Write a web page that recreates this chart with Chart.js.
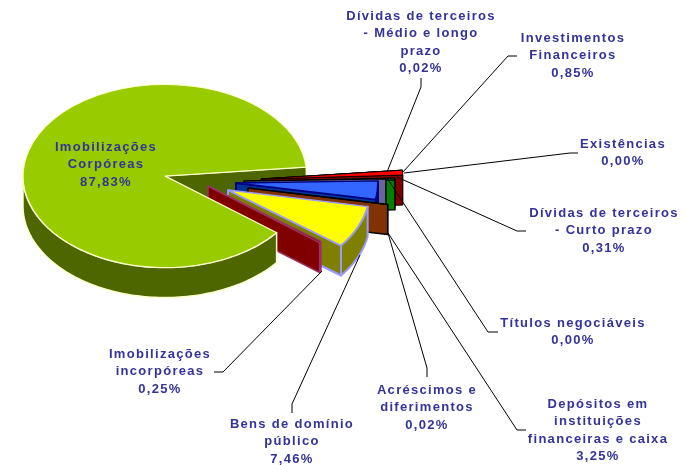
<!DOCTYPE html>
<html>
<head>
<meta charset="utf-8">
<style>html,body{margin:0;padding:0;background:#fff}#wrap{width:688px;height:465px}</style>
<script src="https://cdn.jsdelivr.net/npm/chart.js@4/dist/chart.umd.min.js"></script>
</head>
<body>
<div id="wrap"><canvas id="c" width="688" height="465"></canvas></div>
<script>
// Data (clockwise from the top-right slice)
const categories = ["Dívidas de terceiros - Médio e longo prazo","Investimentos Financeiros","Existências","Dívidas de terceiros - Curto prazo","Títulos negociáveis","Depósitos em instituições financeiras e caixa","Acréscimos e diferimentos","Bens de domínio público","Imobilizações incorpóreas","Imobilizações Corpóreas"];
const values = [0.02,0.85,0.00,0.31,0.00,3.25,0.02,7.46,0.25,87.83];
const valueLabels = ["0,02%","0,85%","0,00%","0,31%","0,00%","3,25%","0,02%","7,46%","0,25%","87,83%"];
const labelLines = [
 ["Dívidas de terceiros","- Médio e longo","prazo"],
 ["Investimentos","Financeiros"],
 ["Existências"],
 ["Dívidas de terceiros","- Curto prazo"],
 ["Títulos negociáveis"],
 ["Depósitos em","instituições","financeiras e caixa"],
 ["Acréscimos e","diferimentos"],
 ["Bens de domínio","público"],
 ["Imobilizações","incorpóreas"],
 ["Imobilizações","Corpóreas"]
];
// Styles
const topColors  = ["#000000","#FF0000","#000000","#008000","#000000","#3366FF","#FF6600","#FFFF00","#800000","#99CC00"];
const sideColors = ["#000000","#800000","#000000","#008000","#666699","#003399","#803300","#808000","#800000","#4D6600"];
const edgeColors = ["#000000","#000000","#000000","#000000","#000000","#000080","#000000","#9999FF","#993366","#FFFFCC"];
const edgeWidths = [1,1,1,1.5,1.5,2,1.5,2,1.5,1.5];
const shiftX = [96,96,88,88,79,71,83,63,43,0];
const shiftY = [3,3,6,6,5,7,12,14,10,0];
const squash = 0.645, depth = 30;
const labelX = [421,573,623,604,573,598,427,292,160,106];
const labelY = [16,38,144,213,323,404,390,424,354,147];
const lineStep = 17.6;
const leaders = [
 [[421,78],[421,87],[387,172]],
 [[517,56],[508,56],[403,172]],
 [[578,153],[570,153],[404,173]],
 [[526,231],[517,231],[397,177]],
 [[498,332],[488,332],[387,178]],
 [[526,430],[517,430],[388,233]],
 [[427,377],[427,368],[388,233]],
 [[292,413],[292,404],[360,255]],
 [[214,372],[223,372],[322,271]],
 []
];

function pt(a,t,i,d){
  return [a.x+shiftX[i]+a.outerRadius*Math.cos(t), a.y+shiftY[i]+squash*a.outerRadius*Math.sin(t)+d];
}
function face(ctx,pts,fill,stroke,w){
  ctx.beginPath();
  pts.forEach((p,n)=> n?ctx.lineTo(p[0],p[1]):ctx.moveTo(p[0],p[1]));
  ctx.closePath();
  ctx.fillStyle=fill;ctx.fill();
  ctx.lineJoin='round';ctx.strokeStyle=stroke;ctx.lineWidth=w;ctx.stroke();
}
function endFace(ctx,a,i){
  const cx=a.x+shiftX[i], cy=a.y+shiftY[i], p=pt(a,a.endAngle,i,0);
  face(ctx,[[cx,cy],p,[p[0],p[1]+depth],[cx,cy+depth]],sideColors[i],edgeColors[i],edgeWidths[i]);
}
function rimWall(ctx,a,i){
  const up=[],down=[],n=Math.max(8,Math.ceil((a.endAngle-a.startAngle)*40));
  for(let k=0;k<=n;k++){
    const t=a.startAngle+(a.endAngle-a.startAngle)*k/n;
    if(Math.sin(t)>=0){up.push(pt(a,t,i,0));down.unshift(pt(a,t,i,depth));}
  }
  if(up.length>1) face(ctx,up.concat(down),sideColors[i],edgeColors[i],edgeWidths[i]);
}
function topFace(ctx,a,i){
  ctx.save();
  ctx.translate(a.x+shiftX[i],a.y+shiftY[i]);
  ctx.scale(1,squash);
  ctx.translate(-a.x,-a.y);
  a.draw(ctx);
  ctx.restore();
}
const pie3d={
  id:'pie3d',
  beforeDatasetDraw(chart,args){
    const ctx=chart.ctx, arcs=args.meta.data, big=arcs.length-1;
    endFace(ctx,arcs[big],big);
    for(let i=0;i<big;i++){
      rimWall(ctx,arcs[i],i);
      endFace(ctx,arcs[i],i);
      topFace(ctx,arcs[i],i);
    }
    rimWall(ctx,arcs[big],big);
    topFace(ctx,arcs[big],big);
    return false;
  },
  afterDraw(chart){
    const ctx=chart.ctx;
    ctx.save();
    ctx.strokeStyle='#000';ctx.lineWidth=1;ctx.lineJoin='miter';
    leaders.forEach(l=>{
      if(!l.length)return;
      ctx.beginPath();
      l.forEach((p,n)=> n?ctx.lineTo(p[0],p[1]):ctx.moveTo(p[0],p[1]));
      ctx.stroke();
    });
    ctx.fillStyle='#333399';
    ctx.font='bold 13px "Liberation Sans", Arial, sans-serif';
    ctx.letterSpacing='1.3px';
    ctx.textAlign='center';ctx.textBaseline='middle';
    labelLines.forEach((lines,i)=>{
      lines.concat([valueLabels[i]]).forEach((s,n)=>{
        ctx.fillText(s,labelX[i],labelY[i]+n*lineStep);
      });
    });
    ctx.restore();
  }
};
new Chart(document.getElementById('c'),{
  type:'pie',
  data:{labels:categories,datasets:[{
    data:values,
    backgroundColor:topColors,
    borderColor:edgeColors,
    borderWidth:edgeWidths,
    borderAlign:'center',
    offset:0
  }]},
  options:{
    responsive:false,
    animation:false,
    events:[],
    rotation:84.4,
    layout:{padding:{left:22,right:380,top:33,bottom:146}},
    plugins:{legend:{display:false},tooltip:{enabled:false},title:{display:false}}
  },
  plugins:[pie3d]
});
</script>
</body>
</html>
